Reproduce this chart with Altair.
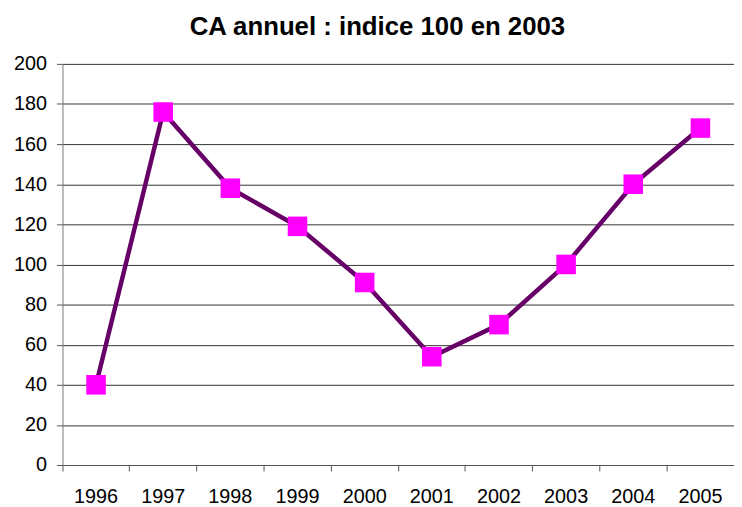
import altair as alt
import pandas as pd

years = ["1996", "1997", "1998", "1999", "2000", "2001", "2002", "2003", "2004", "2005"]
values = [40, 176, 138, 119, 91, 54, 70, 100, 140, 168]
y_ticks = [0, 20, 40, 60, 80, 100, 120, 140, 160, 180, 200]

df = pd.DataFrame({"annee": years, "indice": values})

FONT = "Liberation Sans"
W, H = 678, 405

base = alt.Chart(df).encode(
    x=alt.X(
        "annee:O",
        sort=years,
        scale=alt.Scale(type="band", paddingInner=0, paddingOuter=0),
        axis=alt.Axis(
            title=None, labelAngle=0, bandPosition=0,
            tickSize=6, labelPadding=16, grid=False, labelFontSize=20,
            labelFont=FONT, labelColor="black", domainColor="#555555",
            tickColor="#555555",
        ),
    ),
    y=alt.Y(
        "indice:Q",
        scale=alt.Scale(domain=[0, 200], nice=False, zero=True),
        axis=alt.Axis(
            title=None, values=y_ticks, tickSize=6, labelPadding=10,
            labelFontSize=20, labelFont=FONT, labelColor="black",
            grid=True, gridColor="#333333", gridWidth=1,
            domainColor="#777777", tickColor="#555555",
        ),
    ),
)

line = base.mark_line(color="#660066", strokeWidth=4.5)
pts = base.mark_square(color="#FF00FF", size=390, opacity=1)

chart = (
    alt.layer(line, pts)
    .properties(
        width=W,
        height=H,
        title=alt.Title(
            "CA annuel : indice 100 en 2003",
            font=FONT, fontSize=26, fontWeight="bold", color="black",
            anchor="middle", dx=-21, offset=14,
        ),
        autosize=alt.AutoSizeParams(type="none"),
        padding={"left": 55, "top": 54, "right": 0, "bottom": 44},
    )
    .configure_view(stroke=None)
)

chart.save("out.html", embed_options={"renderer": "svg", "actions": False})
